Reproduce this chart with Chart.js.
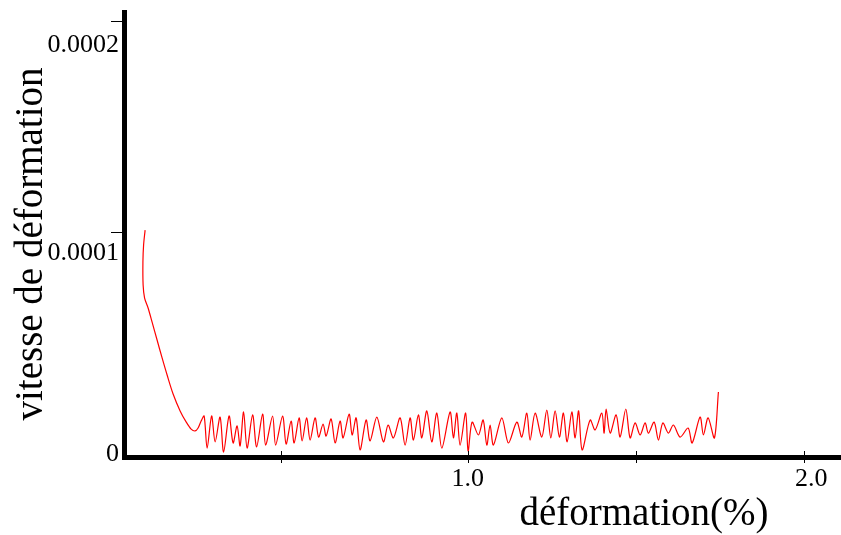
<!DOCTYPE html>
<html><head><meta charset="utf-8">
<script src="https://cdn.jsdelivr.net/npm/chart.js@4.4.1/dist/chart.umd.min.js"></script>
<style>html,body{margin:0;padding:0;background:#fff;overflow:hidden}canvas{display:block}</style>
</head><body>
<canvas id="c" width="841" height="535"></canvas>
<script>
// ---- data ----
const strainValues = [
  0.0416, 0.0371, 0.0351, 0.0357, 0.0401, 0.0505, 0.0624, 0.0772, 0.0921, 0.1070,
  0.1248, 0.1456, 0.1634, 0.1783, 0.1901, 0.1990, 0.2080,
  0.2169, 0.2258, 0.2392, 0.2496, 0.2644, 0.2748, 0.2911, 0.3030, 0.3149, 0.3238,
  0.3342, 0.3446, 0.3610, 0.3728, 0.3907, 0.3996, 0.4204, 0.4293, 0.4501, 0.4605,
  0.4753, 0.4843, 0.4991, 0.5080, 0.5214, 0.5318, 0.5466, 0.5570, 0.5704, 0.5793,
  0.5942, 0.6061, 0.6209, 0.6298, 0.6477, 0.6566, 0.6685, 0.6803, 0.6982, 0.7100,
  0.7300, 0.7496, 0.7635, 0.7793, 0.7992, 0.8140, 0.8289, 0.8387, 0.8535, 0.8636,
  0.8785, 0.8933, 0.9082, 0.9231, 0.9477, 0.9575, 0.9676, 0.9774, 0.9938, 1.0012,
  1.0131, 1.0318, 1.0458, 1.0568, 1.0665, 1.0764, 1.1013, 1.1209, 1.1459, 1.1607,
  1.1756, 1.1854, 1.2003, 1.2201, 1.2350, 1.2469, 1.2597, 1.2724, 1.2843, 1.2953,
  1.3093, 1.3191, 1.3295, 1.3399, 1.3637, 1.3785, 1.3984, 1.4052, 1.4112, 1.4231,
  1.4409, 1.4528, 1.4697, 1.4825, 1.4973, 1.5122, 1.5270, 1.5368, 1.5538, 1.5666,
  1.5796, 1.5963, 1.6111, 1.6310, 1.6548, 1.6667, 1.6904, 1.7002, 1.7142, 1.7329,
  1.7448
];
const rateValues = [
  10.09e-5, 9.38e-5, 8.58e-5, 7.49e-5, 6.87e-5, 6.40e-5, 5.73e-5, 4.88e-5, 4.03e-5, 3.22e-5,
  2.32e-5, 1.52e-5, 1.00e-5, 0.66e-5, 0.57e-5, 0.71e-5, 1.04e-5,
  1.28e-5, -0.24e-5, 1.28e-5, 0.05e-5, 1.23e-5, -0.43e-5, 1.28e-5, 0.00e-5, 0.81e-5, -0.14e-5,
  1.47e-5, -0.24e-5, 1.33e-5, -0.19e-5, 1.37e-5, -0.10e-5, 1.28e-5, -0.10e-5, 1.28e-5, -0.05e-5,
  1.04e-5, 0.00e-5, 1.19e-5, 0.10e-5, 1.19e-5, 0.14e-5, 1.19e-5, 0.28e-5, 0.90e-5, 0.33e-5,
  1.14e-5, 0.00e-5, 1.04e-5, 0.24e-5, 1.37e-5, 0.38e-5, 1.19e-5, -0.33e-5, 1.09e-5, 0.10e-5,
  1.23e-5, 0.05e-5, 0.85e-5, 0.24e-5, 1.19e-5, -0.10e-5, 1.19e-5, 0.14e-5, 1.33e-5, 0.24e-5,
  1.52e-5, 0.05e-5, 1.42e-5, -0.24e-5, 1.47e-5, 0.24e-5, 1.42e-5, -0.10e-5, 1.42e-5, -0.38e-5,
  0.99e-5, 0.38e-5, 1.09e-5, -0.10e-5, 0.85e-5, -0.10e-5, 1.19e-5, 0.00e-5, 0.99e-5, 0.28e-5,
  1.42e-5, 0.14e-5, 1.42e-5, 0.28e-5, 1.56e-5, 0.24e-5, 1.52e-5, 0.28e-5, 1.42e-5, 0.05e-5,
  1.47e-5, 0.24e-5, 1.52e-5, -0.33e-5, 1.09e-5, 0.62e-5, 1.42e-5, 0.47e-5, 1.61e-5, 0.47e-5,
  1.33e-5, 0.28e-5, 1.61e-5, 0.24e-5, 0.95e-5, 0.38e-5, 0.95e-5, 0.47e-5, 0.99e-5, 0.14e-5,
  0.95e-5, 0.47e-5, 0.85e-5, 0.28e-5, 0.71e-5, 0.00e-5, 1.23e-5, 0.38e-5, 1.19e-5, 0.24e-5,
  2.42e-5
];
const xTickLabels = ['1.0', '2.0'];
const xTickLabelValues = [1.0, 2.0];
const xTickMarkValues = [0.446, 1.0, 1.5, 2.0];
const yTickLabels = ['0', '0.0001', '0.0002'];
const yTickValues = [0, 0.0001, 0.0002];
const xTitle = 'déformation(%)';
const yTitle = 'vitesse de déformation';

// ---- styles ----
const FONT = '"Liberation Serif", "Times New Roman", serif';
const yLabelDy = [11, 21, 24];
const xLabelDx = [0, 7];

const axisDecor = {
  id: 'axisDecor',
  afterDraw(chart) {
    const { ctx, chartArea, scales: { x, y } } = chart;
    const left = chartArea.left, bottom = chartArea.bottom;
    ctx.save();
    ctx.fillStyle = '#000';
    ctx.fillRect(left - 2, bottom - 2, 5, 5);
    ctx.strokeStyle = '#000';
    ctx.lineWidth = 1;
    yTickValues.forEach(v => {
      if (v === 0) return;
      const py = Math.round(y.getPixelForValue(v)) + 0.5;
      ctx.beginPath(); ctx.moveTo(left - 13, py); ctx.lineTo(left, py); ctx.stroke();
    });
    xTickMarkValues.forEach(v => {
      const px = Math.round(x.getPixelForValue(v)) + 0.5;
      ctx.beginPath(); ctx.moveTo(px, bottom - 6); ctx.lineTo(px, bottom + 6); ctx.stroke();
    });
    ctx.fillStyle = '#000';
    ctx.font = '26px ' + FONT;
    ctx.textAlign = 'right';
    ctx.textBaseline = 'middle';
    yTickValues.forEach((v, i) => {
      ctx.fillText(yTickLabels[i], left - 5, y.getPixelForValue(v) + yLabelDy[i]);
    });
    ctx.textAlign = 'center';
    xTickLabelValues.forEach((v, i) => {
      ctx.fillText(xTickLabels[i], x.getPixelForValue(v) + xLabelDx[i], bottom + 22);
    });
    ctx.font = '39px ' + FONT;
    ctx.textBaseline = 'alphabetic';
    ctx.fillText(xTitle, 644, 525);
    ctx.translate(42, 244);
    ctx.rotate(-Math.PI / 2);
    ctx.fillText(yTitle, 0, 0);
    ctx.restore();
  }
};

new Chart(document.getElementById('c'), {
  type: 'scatter',
  data: {
    datasets: [{
      data: strainValues.map((v, i) => ({ x: v, y: rateValues[i] })),
      showLine: true,
      borderColor: '#ff0000',
      borderWidth: 1.2,
      pointRadius: 0,
      tension: 0.3,
      fill: false
    }]
  },
  options: {
    responsive: false,
    animation: false,
    devicePixelRatio: 1,
    layout: { padding: { top: 12, left: 0, right: 0, bottom: 0 } },
    plugins: { legend: { display: false }, tooltip: { enabled: false } },
    scales: {
      x: {
        type: 'linear', min: -0.0211, max: 2.109,
        grid: { display: false }, ticks: { display: false },
        border: { display: true, color: '#000', width: 5 },
        afterFit(s) { s.height = 78; }
      },
      y: {
        type: 'linear', min: -6.64e-6, max: 2.0426e-4,
        grid: { display: false }, ticks: { display: false },
        border: { display: true, color: '#000', width: 5 },
        afterFit(s) { s.width = 124; }
      }
    }
  },
  plugins: [axisDecor]
});
</script>
</body></html>
